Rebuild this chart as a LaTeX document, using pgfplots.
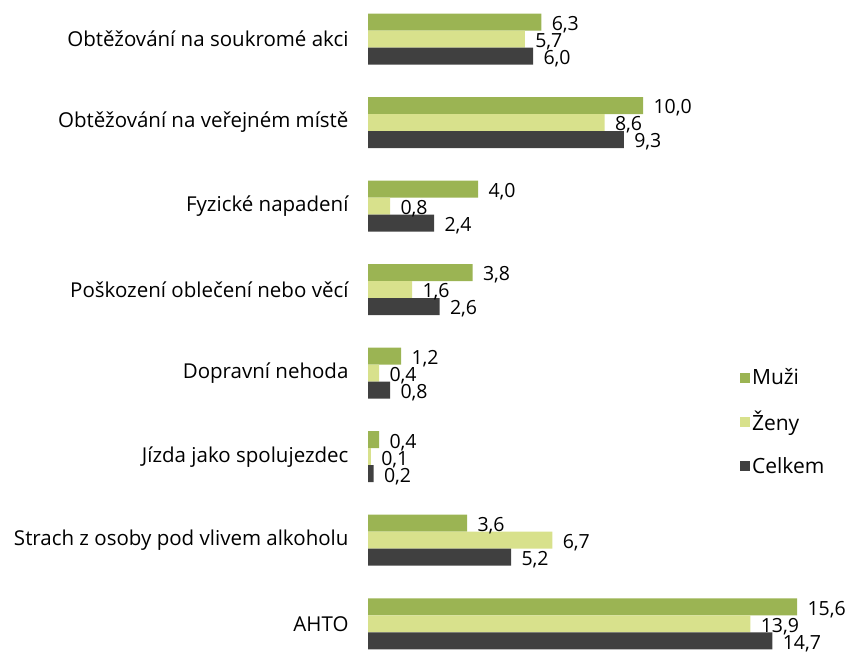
\documentclass[border=0pt]{standalone}
\usepackage{fontspec}
\setmainfont{Open Sans}
\usepackage{pgfplots}
\pgfplotsset{compat=1.18}

\definecolor{muzi}{HTML}{9BB453}
\definecolor{zeny}{HTML}{D8E18C}
\definecolor{celkem}{HTML}{404040}

\pgfplotstableread{
y muzi zeny celkem
0 6.3 5.7 6.0
1 10.0 8.6 9.3
2 4.0 0.8 2.4
3 3.8 1.6 2.6
4 1.2 0.4 0.8
5 0.4 0.1 0.2
6 3.6 6.7 5.2
7 15.6 13.9 14.7
}\data

\begin{document}
\begin{tikzpicture}[x=1pt,y=1pt]
\path[use as bounding box] (0,0) rectangle (851,653);
\begin{axis}[
    at={(368pt,0pt)}, anchor=south west,
    scale only axis,
    width=467.5pt, height=653pt,
    xbar=0pt, bar width=17pt,
    xmin=0, xmax=17,
    ymin=-0.467, ymax=7.35,
    y dir=reverse,
    axis line style={draw=none},
    major tick length=0pt,
    xtick=\empty,
    ytick={0,...,7},
    yticklabels={Obtěžování na soukromé akci, Obtěžování na veřejném místě, Fyzické napadení, Poškození oblečení nebo věcí, Dopravní nehoda, Jízda jako spolujezdec, Strach z osoby pod vlivem alkoholu, AHTO},
    yticklabel style={font=\fontsize{20.5}{24}\selectfont, xshift=-16pt, anchor=east},
    nodes near coords={\pgfmathprintnumber[fixed,fixed zerofill,precision=1,use comma,assume math mode=true]{\pgfplotspointmeta}},
    every node near coord/.append style={font=\fontsize{19.5}{22}\selectfont, anchor=west, xshift=7pt, yshift=-2.5pt, text=black},
    clip=false,
    legend style={draw=none, at={(0.789,0.354)}, anchor=west, font=\fontsize{21}{24}\selectfont, row sep=21pt, fill=none},
    legend cell align=left,
    legend image code/.code={\fill[#1] (0pt,-5pt) rectangle (10pt,5pt);},
]
\addplot[fill=muzi, draw=none, bar shift=17pt] table[x=muzi, y=y] {\data};
\addlegendentry{Muži}
\addplot[fill=zeny, draw=none, bar shift=0pt] table[x=zeny, y=y] {\data};
\addlegendentry{Ženy}
\addplot[fill=celkem, draw=none, bar shift=-17pt] table[x=celkem, y=y] {\data};
\addlegendentry{Celkem}
\end{axis}
\end{tikzpicture}
\end{document}
